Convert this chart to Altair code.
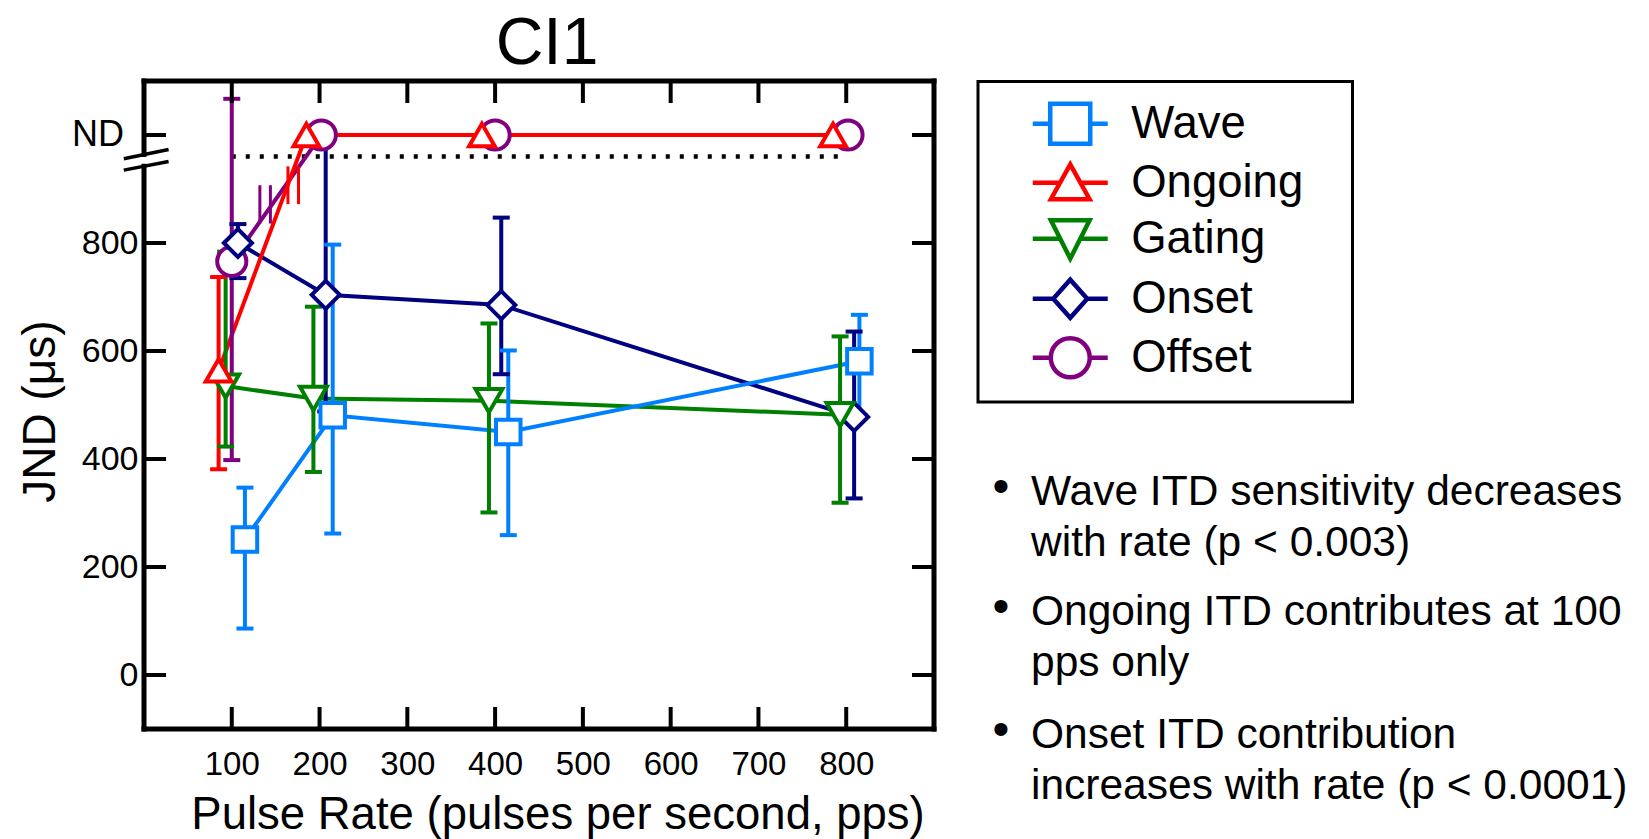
import altair as alt
import pandas as pd

FONT = "Liberation Sans, Arial, sans-serif"

# ---------------- data ----------------
SERIES = ["Wave", "Ongoing", "Gating", "Onset", "Offset"]
COLORS = ["#0080ff", "#ff0000", "#008000", "#000080", "#800080"]
SHAPES = ["square", "triangle-up", "triangle-down", "diamond", "circle"]
SIZES = [600, 850, 850, 900, 680]
# legend glyphs: marker with a line stub on each side
LEGEND_GLYPHS = [
    "M-1.875,0H-1M1,0H1.875M-1,-1H1V1H-1Z",
    "M-1.875,0H-0.506M0.506,0H1.875M0,-0.919L0.9675,0.825H-0.9675Z",
    "M-1.875,0H-0.506M0.506,0H1.875M-0.9675,-0.919H0.9675L0,0.994Z",
    "M-1.875,0H-0.849M0.849,0H1.875M-0.849,0L0,-0.951L0.849,0L0,0.951Z",
    "M-1.875,0H-0.975M0.975,0H1.875M-0.975,0A0.975,0.975,0,1,1,0.975,0A0.975,0.975,0,1,1,-0.975,0Z",
]

wave_x = [115, 215, 415, 815]
wave_y = [251, 481, 450, 581]
wave_lo = [86, 262, 259, 481]
wave_hi = [347, 797, 601, 667]

ongoing_x = [85, 185, 385, 785]
ongoing_y = [564, 1000, 1000, 1000]
ongoing_lo = [381, None, None, None]
ongoing_hi = [737, None, None, None]

gating_x = [93, 193, 393, 793]
gating_y = [535, 512, 508, 482]
gating_lo = [423, 376, 301, 319]
gating_hi = [784, 682, 651, 627]

onset_x = [107, 207, 407, 809]
onset_y = [800, 704, 685, 478]
onset_lo = [735, 488, 557, 327]
onset_hi = [835, 1000, 847, 636]

offset_x = [100, 202, 400, 802]
offset_y = [766, 1000, 1000, 1000]
offset_lo = [398, None, None, None]
offset_hi = [1067, None, None, None]

NO_TOP_CAP = [("Onset", 1)]
DRAW_ORDER = ["Offset", "Onset", "Gating", "Wave", "Ongoing"]

# break symbols on the lines that jump to ND
line_break_series = ["Ongoing", "Ongoing", "Offset", "Offset"]
line_break_x = [164, 176, 132, 144]
line_break_lo = [872, 872, 836, 836]
line_break_hi = [942, 942, 907, 907]

# axis break on the y axis
axis_break_x = [-23, 28]
axis_break_lower = [935, 951]
axis_break_upper = [956, 973]
axis_gap = [942, 964]

threshold_x = [100, 800]
threshold_y = 960

X_DOMAIN = [0, 900]
Y_DOMAIN = [-100, 1100]
x_ticks = [100, 200, 300, 400, 500, 600, 700, 800]
y_ticks = [0, 200, 400, 600, 800, 1000]
y_label_values = [0, 200, 400, 600, 800]
ND_VALUE = 1000

bullets = [
    ["Wave ITD sensitivity decreases", "with rate (p < 0.003)"],
    ["Ongoing ITD contributes at 100", "pps only"],
    ["Onset ITD contribution", "increases with rate (p < 0.0001)"],
]

# ---------------- tables ----------------
series_data = {
    "Wave": (wave_x, wave_y, wave_lo, wave_hi),
    "Ongoing": (ongoing_x, ongoing_y, ongoing_lo, ongoing_hi),
    "Gating": (gating_x, gating_y, gating_lo, gating_hi),
    "Onset": (onset_x, onset_y, onset_lo, onset_hi),
    "Offset": (offset_x, offset_y, offset_lo, offset_hi),
}
rows, err_rows, cap_rows = [], [], []
for name in DRAW_ORDER:
    xs, ys, los, his = series_data[name]
    for k, (xv, yv, lo, hi) in enumerate(zip(xs, ys, los, his)):
        rows.append({"series": name, "x": xv, "y": yv})
        if lo is not None:
            err_rows.append({"series": name, "x": xv, "lo": lo, "hi": hi})
            cap_rows.append({"series": name, "x": xv, "v": lo})
            if (name, k) not in NO_TOP_CAP:
                cap_rows.append({"series": name, "x": xv, "v": hi})
pts = pd.DataFrame(rows)
errs = pd.DataFrame(err_rows)
caps = pd.DataFrame(cap_rows)
brk = pd.DataFrame({"series": line_break_series, "x": line_break_x,
                    "lo": line_break_lo, "hi": line_break_hi})

W, H = 790, 648
XS = alt.Scale(domain=X_DOMAIN, nice=False, zero=False)
YS = alt.Scale(domain=Y_DOMAIN, nice=False, zero=False)


def cscale():
    return alt.Scale(domain=SERIES, range=COLORS)


x_axis = alt.Axis(values=x_ticks, ticks=False, domain=False, grid=False,
                  labelFont=FONT, labelFontSize=33, labelColor="black", labelPadding=19,
                  title="Pulse Rate (pulses per second, pps)", titleFont=FONT,
                  titleFontSize=45.5, titleFontWeight="normal", titleColor="black",
                  titleX=413.5, titleY=99, titleAlign="center", titleBaseline="alphabetic")
y_axis = alt.Axis(values=y_label_values, ticks=False, domain=False, grid=False,
                  labelFont=FONT, labelFontSize=34, labelColor="black", labelPadding=6,
                  title="JND (μs)", titleFont=FONT, titleFontSize=46,
                  titleFontWeight="normal", titleColor="black", titleAngle=270,
                  titleX=-89.5, titleY=330, titleAlign="center", titleBaseline="alphabetic")


def X(field):
    return alt.X(field, scale=XS, axis=x_axis)


def Y(field):
    return alt.Y(field, scale=YS, axis=y_axis)


# dotted threshold line
thr = alt.Chart(pd.DataFrame({"x": [threshold_x[0]], "x2": [threshold_x[1]], "y": [threshold_y]})).mark_rule(
    color="black", strokeWidth=4.5, strokeDash=[4, 10]).encode(
    x=X("x:Q"), x2="x2:Q", y=Y("y:Q"))

lines = alt.Chart(pts).mark_line(strokeWidth=4).encode(
    x=X("x:Q"), y=Y("y:Q"),
    stroke=alt.Stroke("series:N", scale=cscale(), legend=None))

breaks = alt.Chart(brk).mark_rule(strokeWidth=3).encode(
    x=X("x:Q"), y=Y("lo:Q"), y2="hi:Q",
    stroke=alt.Stroke("series:N", scale=cscale(), legend=None))

err_rules = alt.Chart(errs).mark_rule(strokeWidth=4).encode(
    x=X("x:Q"), y=Y("lo:Q"), y2="hi:Q",
    stroke=alt.Stroke("series:N", scale=cscale(), legend=None))

err_caps = alt.Chart(caps).mark_tick(orient="horizontal", size=17, thickness=4, opacity=1).encode(
    x=X("x:Q"), y=Y("v:Q"),
    color=alt.Color("series:N", scale=cscale(), legend=None))

points = alt.Chart(pts).mark_point(filled=True, fill="white", opacity=1, strokeWidth=4).encode(
    x=X("x:Q"), y=Y("y:Q"),
    stroke=alt.Stroke("series:N", scale=cscale(), legend=None),
    shape=alt.Shape("series:N", scale=alt.Scale(domain=SERIES, range=SHAPES), legend=None),
    size=alt.Size("series:N", scale=alt.Scale(domain=SERIES, range=SIZES), legend=None))

LEG = alt.Legend(title=None, orient="none", legendX=833.5, legendY=16, padding=4,
                 symbolOffset=66, labelOffset=38.2, rowPadding=2, symbolSize=1600,
                 symbolStrokeWidth=4.5, labelFont=FONT, labelFontSize=45.5,
                 labelColor="black", labelLimit=500)
leg_df = pd.DataFrame({"series": SERIES, "x": [None] * 5, "y": [None] * 5})
legend_layer = alt.Chart(leg_df).mark_point(filled=False, opacity=1, strokeWidth=4.5).encode(
    x=X("x:Q"), y=Y("y:Q"),
    stroke=alt.Stroke("series:N", scale=cscale(), legend=LEG),
    shape=alt.Shape("series:N", scale=alt.Scale(domain=SERIES, range=LEGEND_GLYPHS), legend=LEG))

one = pd.DataFrame({"k": [0]})
legend_box = alt.Chart(one).mark_rect(filled=False, stroke="black", strokeWidth=3).encode(
    x=alt.value(834), x2=alt.value(1208.5), y=alt.value(0.5), y2=alt.value(321))

# frame (drawn from the domain limits), with a gap for the axis break
frame_df = pd.DataFrame({
    "x1": [X_DOMAIN[0], X_DOMAIN[0], X_DOMAIN[1], X_DOMAIN[0], X_DOMAIN[0]],
    "x2": [X_DOMAIN[0], X_DOMAIN[0], X_DOMAIN[1], X_DOMAIN[1], X_DOMAIN[1]],
    "y1": [Y_DOMAIN[0], axis_gap[1], Y_DOMAIN[0], Y_DOMAIN[1], Y_DOMAIN[0]],
    "y2": [axis_gap[0], Y_DOMAIN[1], Y_DOMAIN[1], Y_DOMAIN[1], Y_DOMAIN[0]],
})
frame = alt.Chart(frame_df).mark_rule(color="black", strokeWidth=5, strokeCap="square").encode(
    x=X("x1:Q"), x2="x2:Q", y=Y("y1:Q"), y2="y2:Q")

brk_axis_df = pd.DataFrame({"x1": [axis_break_x[0]] * 2, "x2": [axis_break_x[1]] * 2,
                            "y1": [axis_break_lower[0], axis_break_upper[0]],
                            "y2": [axis_break_lower[1], axis_break_upper[1]]})
axis_break = alt.Chart(brk_axis_df).mark_rule(color="black", strokeWidth=3.5).encode(
    x=X("x1:Q"), x2="x2:Q", y=Y("y1:Q"), y2="y2:Q")

TL = 22
yt = pd.DataFrame({"v": y_ticks})
xt = pd.DataFrame({"v": x_ticks})
left_ticks = alt.Chart(yt).mark_rule(color="black", strokeWidth=4).encode(
    y=Y("v:Q"), x=alt.value(0), x2=alt.value(TL))
right_ticks = alt.Chart(yt).mark_rule(color="black", strokeWidth=4).encode(
    y=Y("v:Q"), x=alt.value(W - TL), x2=alt.value(W))
top_ticks = alt.Chart(xt).mark_rule(color="black", strokeWidth=4).encode(
    x=X("v:Q"), y=alt.value(0), y2=alt.value(TL))
bottom_ticks = alt.Chart(xt).mark_rule(color="black", strokeWidth=4).encode(
    x=X("v:Q"), y=alt.value(H - TL), y2=alt.value(H))

nd_label = alt.Chart(pd.DataFrame({"v": [ND_VALUE], "t": ["ND"]})).mark_text(
    align="right", baseline="middle", font=FONT, fontSize=36, color="black").encode(
    y=Y("v:Q"), x=alt.value(-20), text="t:N")

title_layer = alt.Chart(one).mark_text(
    align="center", baseline="alphabetic", font=FONT, fontSize=66, color="black").encode(
    x=alt.value(W / 2 + 8), y=alt.value(-17), text=alt.value("CI1"))

bullet_layers = []
for lines_txt, by in zip(bullets, [424, 544, 667]):
    bullet_layers.append(alt.Chart(one).mark_text(
        align="left", baseline="alphabetic", font=FONT, fontSize=42.5, lineHeight=51,
        color="black").encode(x=alt.value(887), y=alt.value(by), text=alt.value(lines_txt)))
    bullet_layers.append(alt.Chart(one).mark_text(
        align="center", baseline="alphabetic", font=FONT, fontSize=48,
        color="black").encode(x=alt.value(857), y=alt.value(by - 3), text=alt.value("•")))

chart = alt.layer(
    thr, lines, breaks, err_rules, err_caps, points, legend_layer, legend_box,
    frame, axis_break, left_ticks, right_ticks, top_ticks, bottom_ticks, nd_label,
    title_layer, *bullet_layers,
).resolve_scale(
    stroke="independent", color="independent", shape="independent", size="independent"
).properties(
    width=W, height=H,
    autosize=alt.AutoSizeParams(type="none"),
    padding={"left": 144, "top": 81, "right": 1649 - 144 - W, "bottom": 839 - 81 - H},
    background="white",
).configure_view(strokeWidth=0)

chart.save("out.html", embed_options={"renderer": "svg", "actions": False})
